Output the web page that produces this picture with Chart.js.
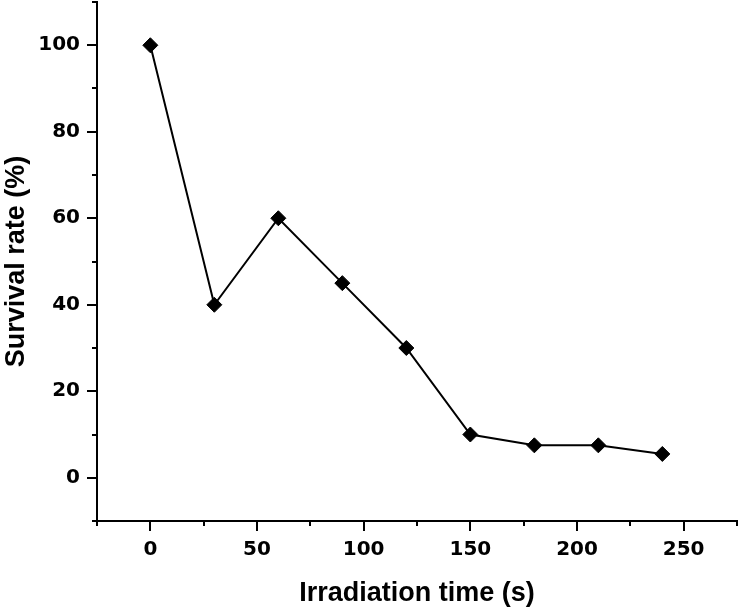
<!DOCTYPE html>
<html>
<head>
<meta charset="utf-8">
<script src="https://cdn.jsdelivr.net/npm/chart.js@4/dist/chart.umd.min.js"></script>
<style>
  html, body { margin: 0; padding: 0; background: #ffffff; }
  canvas { display: block; }
</style>
</head>
<body>
<canvas id="c" width="739" height="611"></canvas>
<script>
// Data
const irradiationTime = [0, 30, 60, 90, 120, 150, 180, 210, 240];
const survivalRate = [100, 40, 60, 45, 30, 10, 7.5, 7.5, 5.5];

// Axis settings
const xMin = -25, xMax = 275, xMinorStep = 25, xMajorStep = 50;
const yMin = -10, yMax = 110, yMinorStep = 10, yMajorStep = 20;
const xTitle = 'Irradiation time (s)';
const yTitle = 'Survival rate (%)';

const points = irradiationTime.map((t, i) => ({ x: t, y: survivalRate[i] }));

const tickFont = { family: '"DejaVu Sans", sans-serif', weight: 'bold', size: 20 };
const titleFont = { family: '"Liberation Sans", Arial, sans-serif', weight: 'bold', size: 27 };

// Draws major/minor tick marks on the axes using the library's scales
const tickMarks = {
  id: 'tickMarks',
  afterDraw(chart) {
    const ctx = chart.ctx;
    const xs = chart.scales.x, ys = chart.scales.y;
    const area = chart.chartArea;
    ctx.save();
    ctx.strokeStyle = '#000';
    ctx.lineWidth = 2;
    ctx.lineCap = 'butt';
    ctx.beginPath();
    for (let v = yMin; v <= yMax + 1e-9; v += yMinorStep) {
      const py = Math.round(ys.getPixelForValue(v));
      const len = (Math.abs(v % yMajorStep) < 1e-9) ? 10 : 5;
      ctx.moveTo(area.left, py);
      ctx.lineTo(area.left - len, py);
    }
    for (let v = xMin; v <= xMax + 1e-9; v += xMinorStep) {
      const px = Math.round(xs.getPixelForValue(v));
      const len = (Math.abs(v % xMajorStep) < 1e-9) ? 10 : 5;
      ctx.moveTo(px, area.bottom);
      ctx.lineTo(px, area.bottom + len);
    }
    ctx.stroke();
    ctx.restore();
  }
};

new Chart(document.getElementById('c'), {
  type: 'line',
  data: {
    datasets: [{
      data: points,
      borderColor: '#000',
      borderWidth: 2,
      backgroundColor: '#000',
      pointStyle: 'rectRot',
      pointRadius: 7.5,
      pointBorderWidth: 1,
      pointBackgroundColor: '#000',
      pointBorderColor: '#000',
      tension: 0,
      fill: false,
      clip: false
    }]
  },
  options: {
    responsive: false,
    animation: false,
    layout: { autoPadding: false, padding: { top: 2, right: 2, left: 0, bottom: 0 } },
    plugins: { legend: { display: false }, tooltip: { enabled: false } },
    scales: {
      x: {
        type: 'linear',
        min: xMin,
        max: xMax,
        grid: { display: false, drawTicks: false },
        border: { display: true, color: '#000', width: 2 },
        ticks: {
          stepSize: xMinorStep,
          color: '#000',
          font: tickFont,
          padding: 17,
          maxRotation: 0,
          autoSkip: false,
          callback: (v) => (Math.abs(v % xMajorStep) < 1e-9 && v >= 0 && v <= 250) ? String(v) : null
        },
        title: { display: true, text: xTitle, color: '#000', font: titleFont, padding: { top: 0, bottom: 1 } },
        afterFit: (s) => { s.height = 90; s.paddingLeft = 0; s.paddingRight = 0; }
      },
      y: {
        type: 'linear',
        min: yMin,
        max: yMax,
        grid: { display: false, drawTicks: false },
        border: { display: true, color: '#000', width: 2 },
        ticks: {
          stepSize: yMinorStep,
          color: '#000',
          font: tickFont,
          padding: 17,
          autoSkip: false,
          callback: (v) => (Math.abs(v % yMajorStep) < 1e-9 && v >= 0 && v <= 100) ? String(v) : null
        },
        title: { display: true, text: yTitle, color: '#000', font: titleFont, padding: { top: 0, bottom: 0 } },
        afterFit: (s) => { s.width = 97; s.paddingTop = 0; s.paddingBottom = 0; }
      }
    }
  },
  plugins: [tickMarks]
});
</script>
</body>
</html>
